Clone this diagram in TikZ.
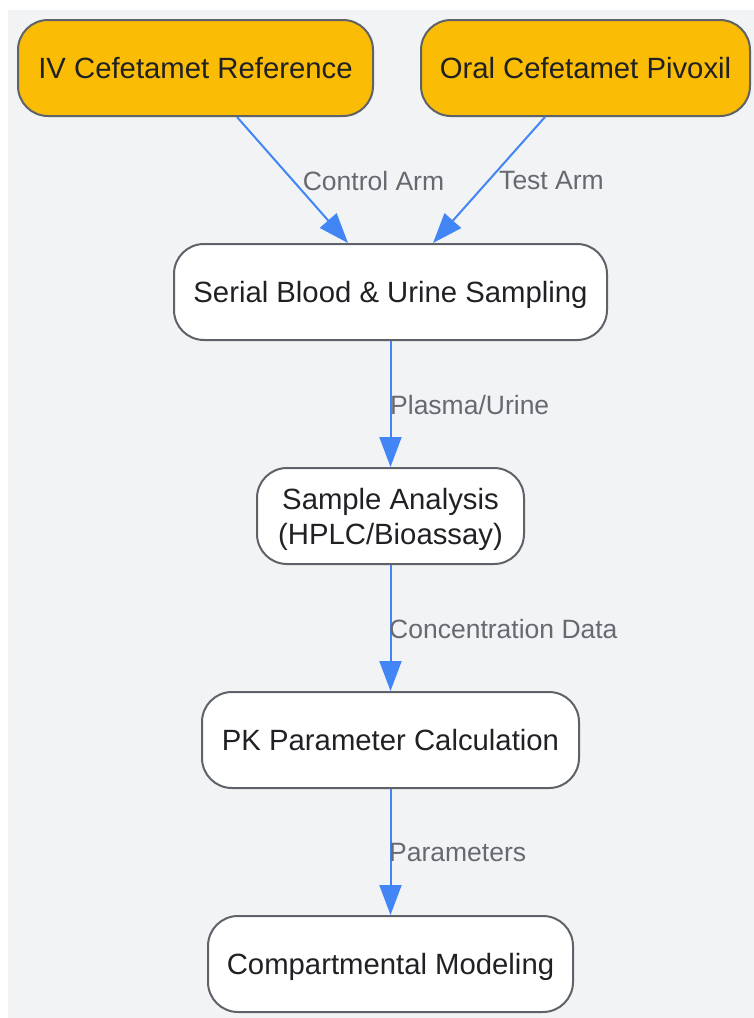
\documentclass[tikz,border=0pt]{standalone}
\usepackage{fontspec}
\setmainfont{Liberation Sans}
\usetikzlibrary{arrows.meta,calc}
\definecolor{bggray}{HTML}{F1F3F5}
\definecolor{gyellow}{HTML}{FBBC05}
\definecolor{gstroke}{HTML}{5F6368}
\definecolor{gblue}{HTML}{4285F4}
\definecolor{gtext}{HTML}{202124}
\definecolor{glabel}{HTML}{666A70}
\tikzset{
  box/.style={draw=gstroke, line width=2pt, rounded corners=30pt, fill=white,
    minimum height=96pt, inner sep=0pt, text=gtext, align=center,
    text depth=0pt, font=\fontsize{29.3}{35}\selectfont},
  startbox/.style={box, fill=gyellow},
  flow/.style={draw=gblue, line width=2pt, -{Triangle[length=30pt,width=22pt]}},
  elabel/.style={text=glabel, font=\fontsize{26.5}{31}\selectfont, inner sep=0pt}
}
\begin{document}
\begin{tikzpicture}[x=1pt,y=-1pt]
\useasboundingbox (0,0) rectangle (754,1018);
\fill[bggray] (8,10) rectangle (754,1018);
\node[startbox, minimum width=355pt] (iv) at (195.5,68) {IV Cefetamet Reference};
\node[startbox, minimum width=329pt] (oral) at (585.5,68) {Oral Cefetamet Pivoxil};
\node[box, minimum width=433pt] (ser) at (390.5,292) {Serial Blood \& Urine Sampling};
\node[box, minimum width=267pt] (sa) at (390.5,516) {Sample Analysis\\(HPLC/Bioassay)};
\node[box, minimum width=377pt] (pk) at (390.5,740) {PK Parameter Calculation};
\node[box, minimum width=365pt] (cm) at (390.5,964) {Compartmental Modeling};
\draw[flow] ($(iv.south)+(41.5,0)$) -- ($(ser.north)+(-42.5,0)$);
\draw[flow] ($(oral.south)+(-40.5,0)$) -- ($(ser.north)+(42.5,0)$);
\draw[flow] (ser.south) -- (sa.north);
\draw[flow] (sa.south) -- (pk.north);
\draw[flow] (pk.south) -- (cm.north);
\node[elabel] (l1) at (373.5,181) {Control Arm};
\node[elabel] (l2) at (551.5,181) {Test Arm};
\node[elabel, anchor=west] (l3) at (390,405) {Plasma/Urine};
\node[elabel, anchor=west] (l4) at (389,629) {Concentration Data};
\node[elabel, anchor=west] (l5) at (389,853) {Parameters};
\end{tikzpicture}
\end{document}
